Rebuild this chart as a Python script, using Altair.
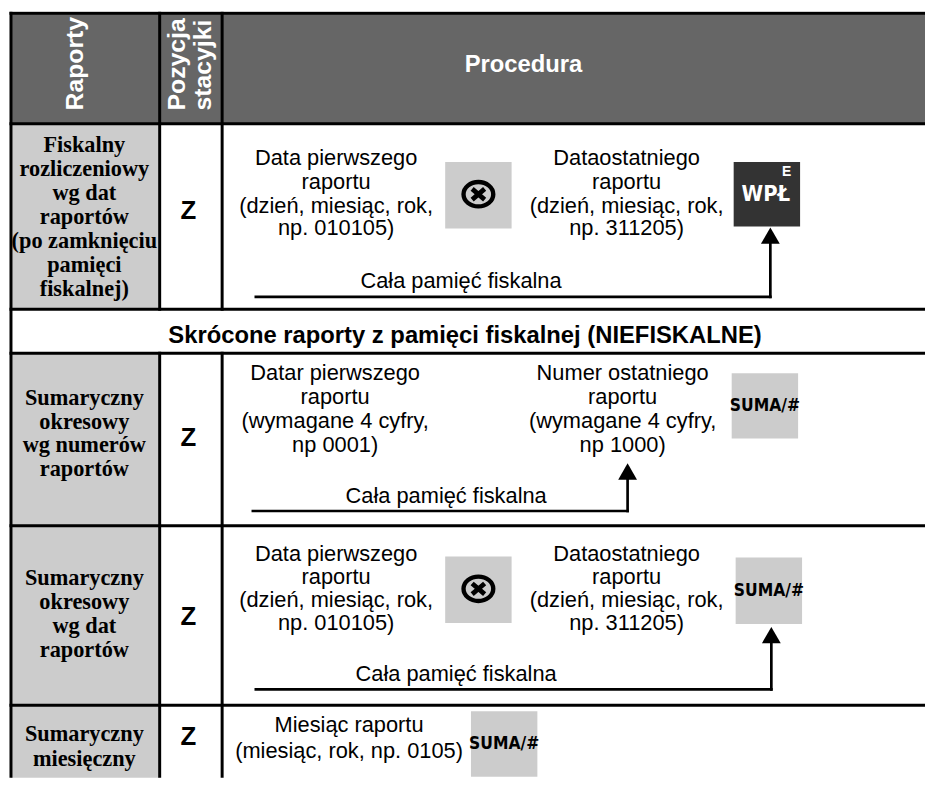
import altair as alt
import pandas as pd

# ---------------- content (texts of the table) ----------------
HEADER_REPORTS = "Raporty"
HEADER_POSITION = ["Pozycja", "stacyjki"]
HEADER_PROCEDURE = "Procedura"
SECTION_TITLE = "Skrócone raporty z pamięci fiskalnej (NIEFISKALNE)"

REPORT_NAMES = [
    ["Fiskalny", "rozliczeniowy", "wg dat", "raportów", "(po zamknięciu", "pamięci", "fiskalnej)"],
    ["Sumaryczny", "okresowy", "wg numerów", "raportów"],
    ["Sumaryczny", "okresowy", "wg dat", "raportów"],
    ["Sumaryczny", "miesięczny"],
]
KEY_POSITIONS = ["Z", "Z", "Z", "Z"]
FIRST_INPUT = [
    ["Data pierwszego", "raportu", "(dzień, miesiąc, rok,", "np. 010105)"],
    ["Datar pierwszego", "raportu", "(wymagane 4 cyfry,", "np 0001)"],
    ["Data pierwszego", "raportu", "(dzień, miesiąc, rok,", "np. 010105)"],
    ["Miesiąc raportu", "(miesiąc, rok, np. 0105)"],
]
SECOND_INPUT = [
    ["Dataostatniego", "raportu", "(dzień, miesiąc, rok,", "np. 311205)"],
    ["Numer ostatniego", "raportu", "(wymagane 4 cyfry,", "np 1000)"],
    ["Dataostatniego", "raportu", "(dzień, miesiąc, rok,", "np. 311205)"],
    [],
]
HAS_SEPARATOR = [True, False, True, False]
CONFIRM_KEY = ["WPŁ", "SUMA/#", "SUMA/#", "SUMA/#"]
CONFIRM_SUPER = ["E", "", "", ""]
CONFIRM_DARK = [True, False, False, False]
SHORTCUT_LABEL = ["Cała pamięć fiskalna", "Cała pamięć fiskalna", "Cała pamięć fiskalna", ""]

# ---------------- layout (pixel positions of the page) ----------------
W, H = 925, 773
OX, OY = 8, 8
COL_EDGES = [11, 161, 224, 945]
ROW_EDGES = [10, 121.5, 308.5, 353, 527, 708, 800]
BODY_ROW_IDX = [1, 3, 4, 5]
NAME_X = 85
NAME_Y = [[143, 167, 191, 216, 240, 264, 288], [398, 422, 446, 470], [580, 604, 628, 652], [737, 762]]
KEY_X = 190
KEY_Y = [209, 438, 619, 740]
INPUT1_X = [339, 338, 339, 352]
INPUT2_X = [632, 628, 632, 0]
INPUT_Y = [[156, 180, 204, 227], [373, 397, 421, 445], [555, 579, 602, 625], [728, 754]]
SEP_BOX = [(449, 516, 160, 227), None, (449, 516, 558, 625), None]
CONFIRM_BOX = [(740, 807, 160, 225), (738, 805, 373, 439), (742, 809, 559, 626), (475, 542, 714, 780)]
PATH_X0 = [258, 255, 258]
PATH_X1 = [777, 633, 778]
PATH_Y = [296, 512, 692]
TIP_Y = [226, 464, 629]
LABEL_XY = [(465, 280), (450, 497), (460, 677)]

HEADER_FILL = "#666666"
NAME_FILL = "#cccccc"
KEY_FILL = "#cccccc"
DARK_FILL = "#333333"

SANS = "Liberation Sans, Arial, Helvetica, sans-serif"
SERIF = "Liberation Serif, Times New Roman, serif"
NARROW = "DejaVu Sans Condensed, Liberation Sans, sans-serif"

XS = alt.Scale(domain=[OX, OX + W], range=[0, W], nice=False, zero=False)
YS = alt.Scale(domain=[OY, OY + H], range=[0, H], nice=False, zero=False)


def xe(f="x"):
    return alt.X(f"{f}:Q", scale=XS, axis=None)


def ye(f="y"):
    return alt.Y(f"{f}:Q", scale=YS, axis=None)


# ---------------- rectangles ----------------
rects = [dict(x=COL_EDGES[0], x2=COL_EDGES[-1], y=ROW_EDGES[0], y2=ROW_EDGES[1], fill=HEADER_FILL)]
for r in BODY_ROW_IDX:
    rects.append(dict(x=COL_EDGES[0], x2=COL_EDGES[1], y=ROW_EDGES[r], y2=ROW_EDGES[r + 1], fill=NAME_FILL))
for box in SEP_BOX:
    if box:
        rects.append(dict(x=box[0], x2=box[1], y=box[2], y2=box[3], fill=KEY_FILL))
for box, dark in zip(CONFIRM_BOX, CONFIRM_DARK):
    rects.append(dict(x=box[0], x2=box[1], y=box[2], y2=box[3], fill=DARK_FILL if dark else KEY_FILL))
rect_df = pd.DataFrame(rects)

# ---------------- line segments ----------------
segs = []
for yv in ROW_EDGES[:-1]:
    segs.append(dict(x=COL_EDGES[0], y=yv, x2=COL_EDGES[-1], y2=yv, w=3))
segs.append(dict(x=COL_EDGES[0], y=ROW_EDGES[0], x2=COL_EDGES[0], y2=ROW_EDGES[-1], w=3))
for xv in COL_EDGES[1:3]:
    segs.append(dict(x=xv, y=ROW_EDGES[0], x2=xv, y2=ROW_EDGES[2], w=3))
    segs.append(dict(x=xv, y=ROW_EDGES[3], x2=xv, y2=ROW_EDGES[-1], w=3))
for i in range(3):
    segs.append(dict(x=PATH_X0[i], y=PATH_Y[i], x2=PATH_X1[i], y2=PATH_Y[i], w=2.7))
    segs.append(dict(x=PATH_X1[i], y=PATH_Y[i], x2=PATH_X1[i], y2=TIP_Y[i] + 10, w=2.7))
seg_df = pd.DataFrame(segs)

heads_df = pd.DataFrame([dict(x=PATH_X1[i], y=TIP_Y[i] + 8.2) for i in range(3)])
sep_df = pd.DataFrame([dict(x=(b[0] + b[1]) / 2, y=(b[2] + b[3]) / 2 - 1) for b in SEP_BOX if b])

# ---------------- texts ----------------
texts = []
texts.append(dict(x=76, y=108, t=HEADER_REPORTS, s="headv"))
texts.append(dict(x=179, y=108, t=HEADER_POSITION[0], s="headv"))
texts.append(dict(x=205, y=108, t=HEADER_POSITION[1], s="headv"))
texts.append(dict(x=528, y=62, t=HEADER_PROCEDURE, s="head"))
texts.append(dict(x=469, y=336, t=SECTION_TITLE, s="section"))
for i in range(4):
    for line, yv in zip(REPORT_NAMES[i], NAME_Y[i]):
        texts.append(dict(x=NAME_X, y=yv, t=line, s="name"))
    texts.append(dict(x=KEY_X, y=KEY_Y[i], t=KEY_POSITIONS[i], s="key"))
    for line, yv in zip(FIRST_INPUT[i], INPUT_Y[i]):
        texts.append(dict(x=INPUT1_X[i], y=yv, t=line, s="body"))
    for line, yv in zip(SECOND_INPUT[i], INPUT_Y[i]):
        texts.append(dict(x=INPUT2_X[i], y=yv, t=line, s="body"))
    b = CONFIRM_BOX[i]
    cx, cy = (b[0] + b[1]) / 2, (b[2] + b[3]) / 2
    if CONFIRM_DARK[i]:
        texts.append(dict(x=cx - 1, y=cy, t=CONFIRM_KEY[i], s="btn_dark"))
        texts.append(dict(x=cx + 20, y=cy - 22, t=CONFIRM_SUPER[i], s="btn_sup"))
    else:
        texts.append(dict(x=cx, y=cy, t=CONFIRM_KEY[i], s="btn"))
    if SHORTCUT_LABEL[i]:
        texts.append(dict(x=LABEL_XY[i][0], y=LABEL_XY[i][1], t=SHORTCUT_LABEL[i], s="body"))
text_df = pd.DataFrame(texts)

STYLES = {
    "headv": dict(font=SANS, fontSize=25, fontWeight="bold", color="white", angle=270, align="left"),
    "head": dict(font=SANS, fontSize=24, fontWeight="bold", color="white", align="center"),
    "section": dict(font=SANS, fontSize=24, fontWeight="bold", color="black", align="center"),
    "name": dict(font=SERIF, fontSize=22.5, fontWeight="bold", color="black", align="center"),
    "key": dict(font=SANS, fontSize=26, fontWeight="bold", color="black", align="center"),
    "body": dict(font=SANS, fontSize=22, color="black", align="center"),
    "btn_dark": dict(font=NARROW, fontSize=22, fontWeight="bold", color="white", align="center"),
    "btn_sup": dict(font=SANS, fontSize=14, fontWeight="bold", color="white", align="center"),
    "btn": dict(font=NARROW, fontSize=17.5, fontWeight="bold", color="black", align="center"),
}

ELLIPSE = "M-1,0A1,0.82 0 1,0 1,0A1,0.82 0 1,0 -1,0Z"
CROSS = "M-0.42,-0.36L0.42,0.36M0.42,-0.36L-0.42,0.36"

layers = []
layers.append(
    alt.Chart(rect_df).mark_rect(clip=True).encode(
        x=xe(), x2="x2:Q", y=ye(), y2="y2:Q", color=alt.Color("fill:N", scale=None)
    )
)
layers.append(
    alt.Chart(seg_df).mark_rule(color="black", strokeCap="square", clip=True).encode(
        x=xe(), x2="x2:Q", y=ye(), y2="y2:Q", strokeWidth=alt.StrokeWidth("w:Q", scale=None)
    )
)
layers.append(
    alt.Chart(heads_df).mark_point(shape="triangle-up", size=361, filled=True, color="black", opacity=1).encode(
        x=xe(), y=ye()
    )
)
layers.append(
    alt.Chart(sep_df).mark_point(shape=ELLIPSE, size=900, filled=False, strokeWidth=4.4, color="black", opacity=1).encode(
        x=xe(), y=ye()
    )
)
layers.append(
    alt.Chart(sep_df).mark_point(
        shape=CROSS, size=900, filled=False, strokeWidth=4.8, color="black", opacity=1
    ).encode(x=xe(), y=ye())
)
for name, st in STYLES.items():
    sub = text_df[text_df.s == name]
    if len(sub) == 0:
        continue
    layers.append(
        alt.Chart(sub).mark_text(baseline="middle", **st).encode(x=xe(), y=ye(), text="t:N")
    )

chart = alt.layer(*layers).properties(
    width=W, height=H, padding=0, autosize=alt.AutoSizeParams(type="none"), background="white"
).configure_view(stroke=None)

chart.save("out.html", embed_options={"renderer": "svg", "actions": False})
